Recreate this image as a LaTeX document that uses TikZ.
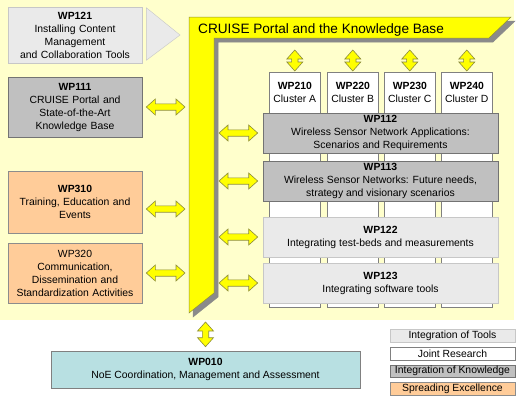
\documentclass[tikz,border=0pt]{standalone}
\usepackage{fontspec}
\setmainfont{Liberation Sans}
\usetikzlibrary{calc}
\usetikzlibrary{positioning}
\definecolor{cream}{HTML}{FFFFCC}
\definecolor{ryellow}{HTML}{FFFF00}
\definecolor{rshadow}{HTML}{8A8A8A}
\definecolor{rline}{HTML}{8C8C3C}
\definecolor{tools}{HTML}{EAEAEA}
\definecolor{knowledge}{HTML}{C0C0C0}
\definecolor{excellence}{HTML}{FFCC99}
\definecolor{coord}{HTML}{B8E0E2}
\tikzset{
	every node/.style={
		font=\fontsize{10.4}{13}\selectfont,
		align=center,
	},
	wp/.style={
		draw=black!50,
		rectangle,
		inner sep=0pt,
		line width=0.6pt,
	},
	tool/.style={wp, fill=tools, draw=black!22},
	joint/.style={wp, fill=white},
	know/.style={wp, fill=knowledge, draw=black!55},
	spread/.style={wp, fill=excellence, draw=black!45},
	side/.style={minimum width=134pt, text width=130pt},
	wide/.style={minimum width=235pt, minimum height=40pt},
	cluster/.style={
		joint,
		anchor=north west,
		minimum width=51pt,
		minimum height=235pt,
	},
	clusterlabel/.style={anchor=north, yshift=-8pt, inner sep=2pt},
	legend/.style={minimum width=125pt, minimum height=12.5pt},
	fat/.style={
		draw=rline,
		fill=ryellow,
		line width=0.6pt,
		to path={
			let \p1=(\tikztostart), \p2=(\tikztotarget),
				\n1={atan2(\y2-\y1,\x2-\x1)}, \n2={veclen(\x2-\x1,\y2-\y1)} in
			{[shift={(\p1)}, rotate=\n1]
				(0,0) -- (9,8) -- (9,3.2) -- (\n2-9,3.2) -- (\n2-9,8) -- (\n2,0)
				-- (\n2-9,-8) -- (\n2-9,-3.2) -- (9,-3.2) -- (9,-8) -- cycle}
		}
	},
}

\begin{document}
\begin{tikzpicture}[x=1pt, y=-1pt]
	\useasboundingbox (0,0) rectangle (530,400);
	\fill[cream] (0,0) rectangle (514,320);

	\coordinate (fo) at (189,17);
	\coordinate (fi) at (214,38);
	\coordinate (fb) at (189,313);

	\foreach \d/\c/\e in {4/rshadow/rshadow,0/ryellow/rline}
		\filldraw[fill=\c, draw=\e, line width=0.5pt, shift={(\d,\d)}]
			(189,17) -- (511,17) -- (489,38) -- (214,38) -- (214,293) -- (189,313) -- cycle;

	\node[anchor=base west, inner sep=0pt, font=\fontsize{13.6}{16}\selectfont] (portal) at (198,33) {CRUISE Portal and the Knowledge Base};

	\node[tool, side, minimum height=56pt] (wp121) at (75,35) {\textbf{WP121}\\Installing Content\\Management\\and Collaboration Tools};
	\node[know, side, minimum height=60pt] (wp111) at (75,107) {\textbf{WP111}\\CRUISE Portal and\\State-of-the-Art\\Knowledge Base};
	\node[spread, side, minimum height=62pt] (wp310) at (75,202) {\textbf{WP310}\\Training, Education and\\Events};
	\node[spread, side, minimum height=60pt] (wp320) at (75,273) {WP320\\Communication,\\Dissemination and\\Standardization Activities};

	\filldraw[fill=tools, draw=black!22] ([xshift=4pt,yshift=-1pt]wp121.north east) -- ([xshift=4pt,yshift=3pt]wp121.south east) -- ([xshift=-9pt]wp121.east -| fo) -- cycle;

	\foreach \x/\w/\l in {269/210/A,327/220/B,384/230/C,441/240/D}{
		\node[cluster, label={[clusterlabel]north:{\textbf{WP\w}\\Cluster \l}}] (wp\w) at (\x,72) {};
		\draw[fat] ([yshift=-12pt]wp\w.north |- fi) to ([yshift=1pt]wp\w.north);
	}

	\node[know, wide] (wp112) at (380.5,133) {\textbf{WP112}\\Wireless Sensor Network Applications:\\Scenarios and Requirements};
	\node[know, wide] (wp113) at (380.5,181) {\textbf{WP113}\\Wireless Sensor Networks: Future needs,\\strategy and visionary scenarios};
	\node[tool, wide] (wp122) at (380.5,237) {\textbf{WP122}\\Integrating test-beds and measurements};
	\node[tool, wide] (wp123) at (380.5,283) {\textbf{WP123}\\Integrating software tools};

	\foreach \w in {112,113,122,123}
		\draw[fat] ([xshift=5pt]wp\w.west -| fi) to ([xshift=-5pt]wp\w.west);

	\foreach \w/\s in {111/0,310/-7,320/0}
		\draw[fat] ([xshift=4pt,yshift=\s pt]wp\w.east) to ([xshift=-4pt,yshift=\s pt]wp\w.east -| fo);

	\node[wp, fill=coord, minimum width=309pt, minimum height=37pt] (wp010) at (205.5,369.5) {\textbf{WP010}\\NoE Coordination, Management and Assessment};
	\draw[fat] ([yshift=-9pt]wp010.north |- fb) to ([yshift=4pt]wp010.north);

	\node[tool, legend] (ltool) at (452.5,336) {Integration of Tools};
	\node[joint, legend, below=4.5pt of ltool] (ljoint) {Joint Research};
	\node[know, legend, below=4.5pt of ljoint] (lknow) {Integration of Knowledge};
	\node[spread, legend, below=4.5pt of lknow] (lspread) {Spreading Excellence};
\end{tikzpicture}
\end{document}
